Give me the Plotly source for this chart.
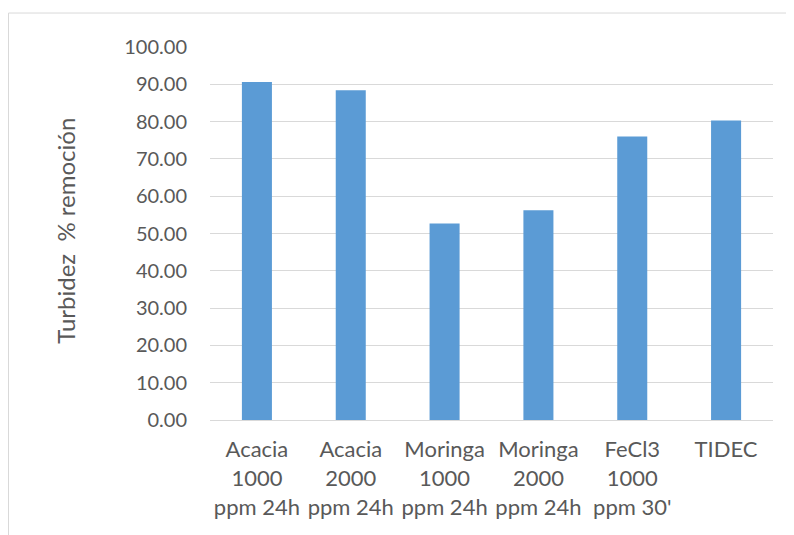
import plotly.graph_objects as go

categories = ["Acacia<br>1000<br>ppm 24h", "Acacia<br>2000<br>ppm 24h", "Moringa<br>1000<br>ppm 24h",
              "Moringa<br>2000<br>ppm 24h", "FeCl3<br>1000<br>ppm 30'", "TIDEC"]
values = [90.6, 88.4, 52.7, 56.2, 76.0, 80.3]
y_ticks = [0, 10, 20, 30, 40, 50, 60, 70, 80, 90, 100]
y_title = "Turbidez\u00a0\u00a0% remoción"

FONT = "Lato"
TXT = "#595959"
GRID = "#d9d9d9"

fig = go.Figure(go.Bar(x=categories, y=values, marker=dict(color="#5B9BD5", line=dict(width=0)), width=0.32))

OFF = 8  # page offset
W, H = 794, 535
L, R, T, B = 210 - OFF, 21 + OFF, 46.5 - OFF, 115 + OFF
pw = W - L - R
ph = H - T - B
bottom_px = H - B  # figure coords of y=0

def px(xp):
    return (xp - OFF - L) / pw

def py(yp):
    return (bottom_px - (yp - OFF)) / ph

fig.update_layout(
    width=W, height=H,
    margin=dict(l=L, r=R, t=T, b=B, pad=0),
    paper_bgcolor="white", plot_bgcolor="white",
    showlegend=False,
    font=dict(family=FONT, size=20, color=TXT),
    xaxis=dict(showgrid=False, showline=True, linecolor=GRID, linewidth=1, ticks="",
               tickfont=dict(family=FONT, size=22, color=TXT), ticklabelstandoff=10),
    yaxis=dict(range=[0, 100], tickvals=y_ticks, tickformat=".2f", showgrid=True, gridcolor=GRID,
               gridwidth=1, zeroline=False, showline=False, ticks="",
               tickfont=dict(family=FONT, size=20, color=TXT), ticklabelstandoff=22),
    annotations=[dict(text=y_title, textangle=-90, xref="paper", yref="paper",
                      x=px(65.5), y=py(231), showarrow=False,
                      xanchor="center", yanchor="middle",
                      font=dict(family=FONT, size=24, color=TXT))],
    shapes=[dict(type="rect", xref="paper", yref="paper",
                 x0=px(8.5), x1=px(793.5),
                 y0=py(560), y1=py(12.5),
                 line=dict(color=GRID, width=1), fillcolor="rgba(0,0,0,0)", layer="below")],
)

fig.write_html("out.html")
